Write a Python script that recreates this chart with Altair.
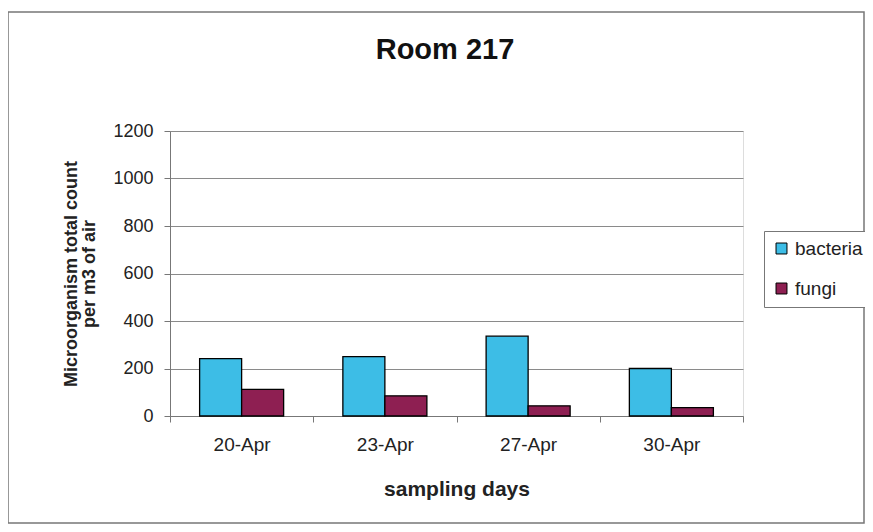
import altair as alt
import pandas as pd

days = ["20-Apr", "23-Apr", "27-Apr", "30-Apr"]
series = ["bacteria", "fungi"]
bacteria = [242, 250, 336, 200]
fungi = [112, 85, 43, 35]
colors = ["#3DBDE6", "#8E1F52"]
y_ticks = [0, 200, 400, 600, 800, 1000, 1200]
chart_title = "Room 217"

rows = []
for d, b, f in zip(days, bacteria, fungi):
    rows.append({"day": d, "series": "bacteria", "count": b})
    rows.append({"day": d, "series": "fungi", "count": f})
df = pd.DataFrame(rows)

FONT = "Liberation Sans"

bars = alt.Chart(df).mark_bar(stroke="black", strokeWidth=1.3).encode(
    x=alt.X("day:N", sort=days,
            scale=alt.Scale(paddingInner=0, paddingOuter=0),
            axis=alt.Axis(title="sampling days", labelAngle=0, tickBand="extent",
                          labelFontSize=19, labelFont=FONT, labelColor="#222",
                          labelPadding=13, tickSize=6, tickColor="#777", domainColor="#777",
                          titleFont=FONT, titleFontSize=21, titleFontWeight="bold",
                          titleColor="#222", titlePadding=24, grid=False)),
    xOffset=alt.XOffset("series:N", sort=series,
                        scale=alt.Scale(paddingInner=0, paddingOuter=0.705)),
    y=alt.Y("count:Q",
            scale=alt.Scale(domain=[0, 1200], nice=False),
            axis=alt.Axis(values=y_ticks, format="d",
                          title=["Microorganism total count", "per m3 of air"],
                          labelFontSize=18, labelFont=FONT, labelColor="#222",
                          labelPadding=11, tickSize=6, tickColor="#777", domainColor="#777",
                          gridColor="#8a8a8a", gridWidth=1,
                          titleFont=FONT, titleFontSize=18, titleFontWeight="bold",
                          titleColor="#222", titlePadding=14, titleLineHeight=18)),
    color=alt.Color("series:N", sort=series,
                    scale=alt.Scale(domain=series, range=colors),
                    legend=alt.Legend(title=None, orient="none", legendX=594, legendY=100,
                                      symbolType="square", symbolSize=120,
                                      symbolStrokeColor="black", symbolStrokeWidth=1,
                                      labelFont=FONT, labelFontSize=19, labelColor="#222",
                                      rowPadding=20, padding=8, strokeColor="#777",
                                      fillColor="white", labelOffset=4)),
)

frame = alt.Chart(alt.Data(values=[{}])).mark_rect(
    filled=False, stroke="#777", strokeWidth=1.5
).encode(
    x=alt.value(-162), x2=alt.value(694),
    y=alt.value(-119), y2=alt.value(392),
)

title = alt.Chart(alt.Data(values=[{}])).mark_text(
    font=FONT, fontSize=29, fontWeight="bold", color="#111",
    align="center", baseline="alphabetic"
).encode(
    x=alt.value(275), y=alt.value(-72), text=alt.value(chart_title),
)

chart = alt.layer(frame, title, bars).properties(
    width=573, height=285,
    autosize=alt.AutoSizeParams(type="none"),
    padding={"left": 162, "top": 123, "right": 122, "bottom": 108},
).configure_view(stroke="#777", strokeWidth=1).configure(background="white")

chart.save("out.html", embed_options={"renderer": "svg", "actions": False})
